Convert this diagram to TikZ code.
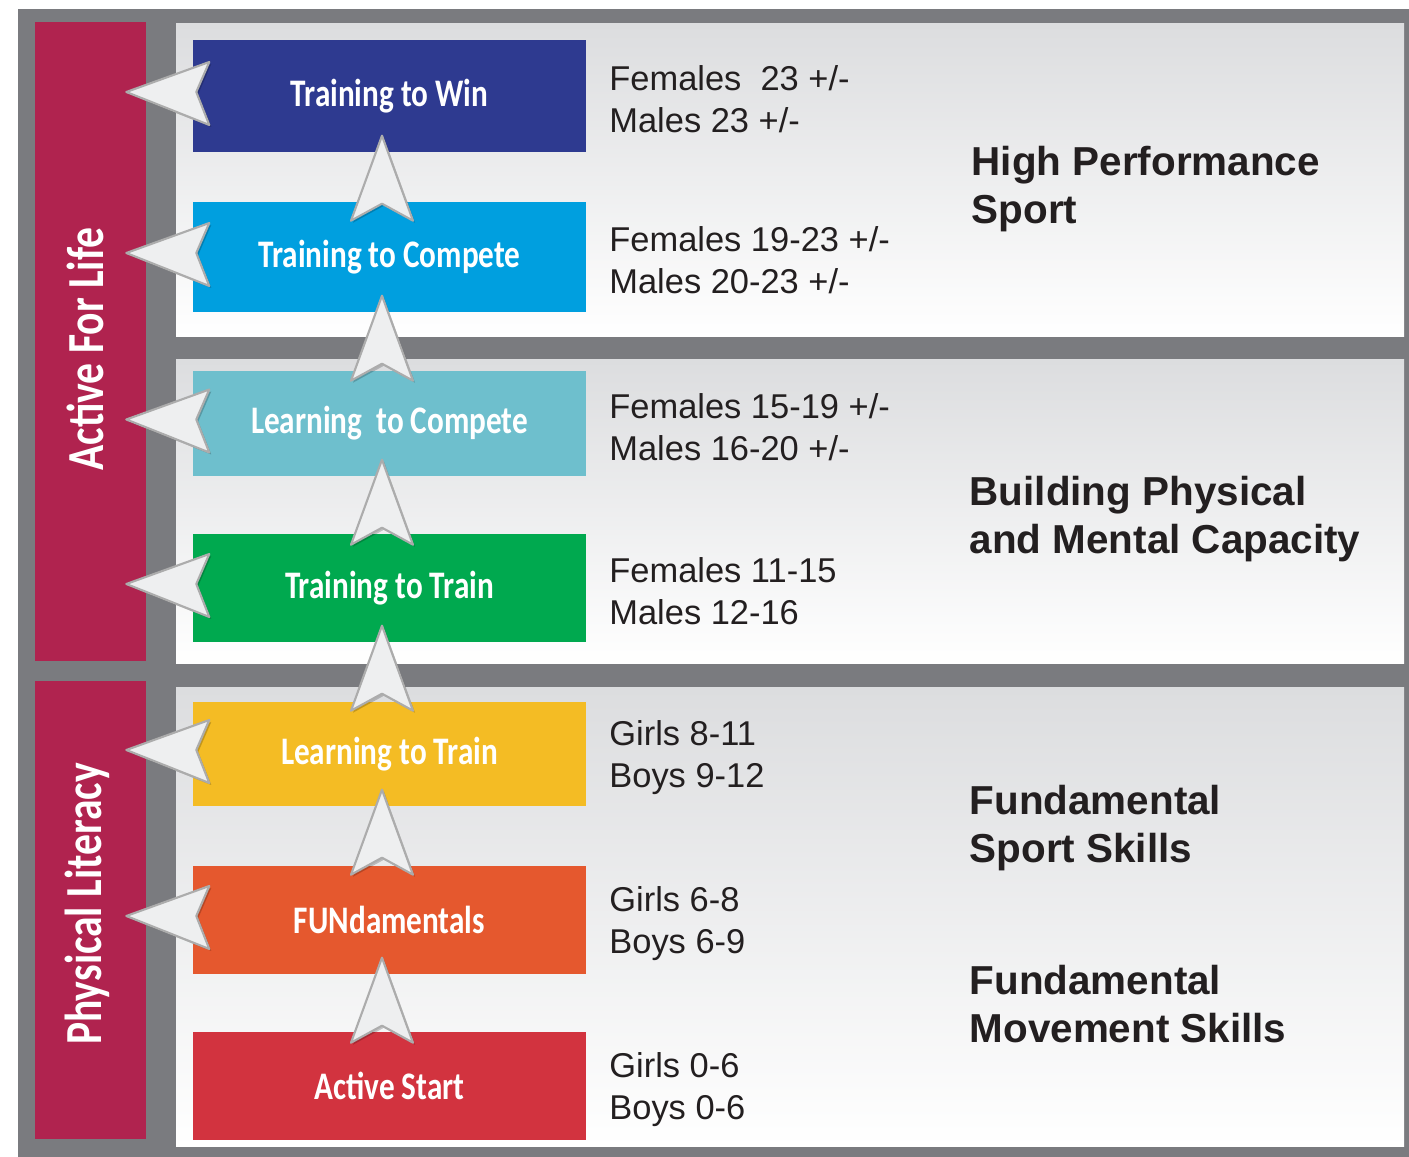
\documentclass[tikz,border=0pt]{standalone}
\usepackage{fontspec}
\setmainfont{Liberation Sans}
\newfontfamily\stagefont[FakeStretch=0.8]{Carlito}
\usetikzlibrary{calc, positioning}

\definecolor{framegray}{HTML}{7A7B7F}
\definecolor{lifered}{HTML}{B0234F}
\definecolor{panelgray}{HTML}{DCDDDF}
\definecolor{winblue}{HTML}{2E3A90}
\definecolor{competeblue}{HTML}{009FDF}
\definecolor{lcompeteteal}{HTML}{6EBFCD}
\definecolor{traingreen}{HTML}{00A94F}
\definecolor{ltrainyellow}{HTML}{F4BC24}
\definecolor{fundorange}{HTML}{E5582E}
\definecolor{startred}{HTML}{D2333F}
\definecolor{inkgray}{HTML}{231F20}
\definecolor{arrowfill}{HTML}{EEEFF0}

\begin{document}
\begin{tikzpicture}[x=0.1mm, y=-0.1mm,
  stage/.style={minimum width=39.3mm, inner sep=0, text=white,
    font=\stagefont\bfseries\fontsize{11.1}{13}\selectfont},
  ages/.style={inner sep=0, align=left, text=inkgray, yshift=-0.35mm,
    font=\fontsize{9.8}{11.95}\selectfont},
  zone/.style={anchor=west, inner sep=0, align=left, text=inkgray,
    font=\bfseries\fontsize{11.5}{13.9}\selectfont},
  side/.style={rotate=90, text=white, inner sep=0,
    font=\stagefont\bfseries\fontsize{14.8}{16}\selectfont},
  arrowshape/.style={fill=arrowfill, draw=gray!65, line width=0.6pt, line join=round},
  uparrow/.pic={
    \fill[black, opacity=0.2] (-5.5,-15) -- (25.5,70) -- (-5.5,53) -- (-36.5,70) -- cycle;
    \path[arrowshape] (-7.5,-17) -- (23.5,68) -- (-7.5,51) -- (-38.5,68) -- cycle;
  },
  leftarrow/.pic={
    \fill[black, opacity=0.2] (-64,-2) -- (19,-32) -- (6,-2) -- (19,31) -- cycle;
    \path[arrowshape] (-66,-4) -- (17,-34) -- (4,-4) -- (17,29) -- cycle;
  }]

  \useasboundingbox (0,0) rectangle (1409,1157);
  \fill[framegray] (18,9) rectangle (1409,1157);

  % three bands
  \foreach \ya/\yb in {24/337, 360/664, 688/1147} {
    \shade[top color=panelgray, bottom color=white] (176,\ya) rectangle (1404,\yb);
  }

  \fill[lifered] (35,22) rectangle (146,661);
  \fill[lifered] (35,681) rectangle (146,1139);
  \node[side] (life) at (85,349) {Active For Life};
  \node[side] (literacy) at (87,904) {Physical Literacy};

  \foreach \n/\y/\h/\c/\t in {win/96/11.2mm/winblue/{Training to Win},
      compete/257/11mm/competeblue/{Training to Compete},
      lcompete/423.5/10.5mm/lcompeteteal/{Learning~ to Compete},
      train/588/10.8mm/traingreen/{Training to Train},
      ltrain/754/10.4mm/ltrainyellow/{Learning to Train},
      fund/920/10.8mm/fundorange/{FUNdamentals},
      start/1086/10.8mm/startred/{Active Start}} {
    \node[stage, minimum height=\h, fill=\c] (\n) at (389.5,\y) {\t};
  }

  \foreach \n/\t in {win/{Females~ 23 +/-\\Males 23 +/-},
      compete/{Females 19-23 +/-\\Males 20-23 +/-},
      lcompete/{Females 15-19 +/-\\Males 16-20 +/-},
      train/{Females 11-15\\Males 12-16},
      ltrain/{Girls 8-11\\Boys 9-12},
      fund/{Girls 6-8\\Boys 6-9},
      start/{Girls 0-6\\Boys 0-6}} {
    \node[ages, right=2.2mm of \n] (\n-age) {\t};
  }

  \node[zone] (perf) at (971,189) {High Performance\\Sport};
  \node[zone] (capacity) at (969,519) {Building Physical\\and Mental Capacity};
  \node[zone] (sport) at (969,828) {Fundamental\\Sport Skills};
  \node[zone] (movement) at (969,1004) {Fundamental\\Movement Skills};

  \foreach \n in {win, compete, lcompete, train, ltrain, fund} {
    \pic at (\n.south) {uparrow};
  }
  \foreach \n in {win, compete, lcompete, train, ltrain, fund} {
    \pic at (\n.west) {leftarrow};
  }

\end{tikzpicture}
\end{document}
